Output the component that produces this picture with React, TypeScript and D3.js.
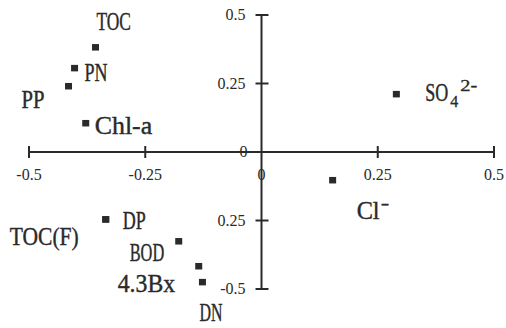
import React, { useEffect, useRef } from 'react';
import * as d3 from 'd3';

// loadings
const names = ['TOC', 'PN', 'PP', 'Chl-a', 'SO', 'Cl', 'DP', 'TOC(F)', 'BOD', '4.3Bx', 'DN'];
const subs = ['', '', '', '', '4', '', '', '', '', '', ''];
const sups = ['', '', '', '', '2-', '-', '', '', '', '', ''];
const xs = [-0.357, -0.402, -0.415, -0.378, 0.29, 0.153, -0.335, -0.335, -0.178, -0.135, -0.127];
const ys = [0.383, 0.307, 0.241, 0.106, 0.212, -0.102, -0.245, -0.245, -0.325, -0.416, -0.474];

const ticks = [-0.5, -0.25, 0, 0.25, 0.5];
const xTickLabels = ['-0.5', '-0.25', '0', '0.25', '0.5'];
const yTickLabels = ['-0.5', '0.25', '0', '0.25', '0.5'];

// label offsets from the point (px)
const offsets: [number, number][] = [
  [1, -17], [10, 13], [-47, 22], [9, 11], [29, 7], [24, 39],
  [17, 10], [-96, 26], [-49, 20], [-81, 26], [-3, 39],
];

const FONT = "'Liberation Serif', serif";
const INK = '#2a2a2a';
const CHAR_W = 11.5;

const App = () => {
  const svgRef = useRef(null);

  useEffect(() => {
    const width = 506;
    const height = 328;
    const svg = d3.select(svgRef.current);
    svg.selectAll('*').remove();
    svg.attr('width', width).attr('height', height);

    const x = d3.scaleLinear().domain([-0.5, 0.5]).range([29, 494]);
    const y = d3.scaleLinear().domain([-0.5, 0.5]).range([289, 15]);
    const x0 = x(0);
    const y0 = y(0);

    const g = svg.append('g');

    // axes
    g.append('line').attr('x1', x(-0.5)).attr('x2', x(0.5)).attr('y1', y0).attr('y2', y0)
      .attr('stroke', INK).attr('stroke-width', 2);
    g.append('line').attr('x1', x0).attr('x2', x0).attr('y1', y(0.5)).attr('y2', y(-0.5))
      .attr('stroke', INK).attr('stroke-width', 2);

    g.selectAll('.xt').data(ticks.filter((t) => t !== 0)).enter().append('line')
      .attr('x1', (d) => x(d)).attr('x2', (d) => x(d))
      .attr('y1', y0 - 6).attr('y2', y0 + 6)
      .attr('stroke', INK).attr('stroke-width', 2);
    g.selectAll('.yt').data(ticks.filter((t) => t !== 0)).enter().append('line')
      .attr('x1', x0 - 6).attr('x2', x0 + 7)
      .attr('y1', (d) => y(d)).attr('y2', (d) => y(d))
      .attr('stroke', INK).attr('stroke-width', 2);

    const tickText = (tx: number, ty: number, s: string, anchor: string) =>
      g.append('text')
        .attr('x', tx).attr('y', ty)
        .attr('text-anchor', anchor)
        .attr('font-family', FONT).attr('font-size', 16)
        .attr('fill', INK).text(s);

    ticks.forEach((t, i) => {
      tickText(x(t), y0 + 28, xTickLabels[i], 'middle');
      if (t === 0) tickText(x0 - 18, y0 + 5, yTickLabels[i], 'middle');
      else tickText(x0 - 16, y(t) + 5, yTickLabels[i], 'end');
    });

    // points
    g.selectAll('.pt').data(names).enter().append('rect')
      .attr('x', (d, i) => x(xs[i]) - 3.5)
      .attr('y', (d, i) => y(ys[i]) - 3)
      .attr('width', 7).attr('height', 6.5)
      .attr('fill', INK);

    // text squeezed/stretched to a fixed width (typewriter look)
    const fitText = (tx: number, ty: number, s: string, size: number, w: number, sw: number) => {
      const t = g.append('text')
        .attr('font-family', FONT).attr('font-size', size)
        .attr('fill', INK).attr('stroke', INK).attr('stroke-width', sw)
        .text(s);
      const natural = (t.node() as SVGTextElement).getComputedTextLength() || w;
      t.attr('transform', `translate(${tx},${ty}) scale(${w / natural},1)`);
    };

    names.forEach((n, i) => {
      const lx = x(xs[i]) + offsets[i][0];
      const ly = y(ys[i]) + offsets[i][1];
      const w = n.length * CHAR_W;
      fitText(lx, ly, n, 25, w, 0.4);
      if (subs[i]) fitText(lx + w + 2, ly + 6, subs[i], 16, 8, 0.3);
      if (sups[i]) fitText(lx + w + (subs[i] ? 12 : 1), ly - 10, sups[i], 16, sups[i].length * 8.5, 0.3);
    });
  }, []);

  return (
    <svg ref={svgRef} style={{ position: 'absolute', left: 0, top: 0 }}></svg>
  );
};

export default App;
